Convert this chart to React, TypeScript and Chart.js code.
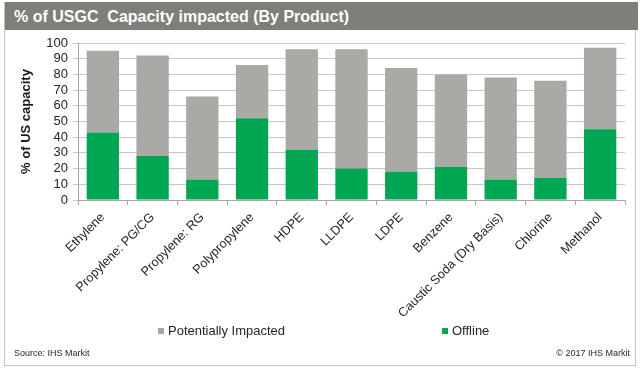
import React, { useEffect, useRef } from "react";
import { Chart, registerables } from "chart.js";

Chart.register(...registerables);

const categories = [
  "Ethylene",
  "Propylene: PG/CG",
  "Propylene: RG",
  "Polypropylene",
  "HDPE",
  "LLDPE",
  "LDPE",
  "Benzene",
  "Caustic Soda (Dry Basis)",
  "Chlorine",
  "Methanol",
];
const offline = [43, 28, 13, 52, 32, 20, 18, 21, 13, 14, 45];
const potentiallyImpacted = [52, 64, 53, 34, 64, 76, 66, 59, 65, 62, 52];
const seriesNames = ["Offline", "Potentially Impacted"];
const yMax = 100;
const yStep = 10;

const FONT = '"Liberation Sans", Arial, Helvetica, sans-serif';
const GREEN = "#00a651";
const GRAY = "#aaa9a5";

const legendPlugin = {
  id: "customLegend",
  afterDraw(chart: any, _args: any, opts: any) {
    const ctx = chart.ctx as CanvasRenderingContext2D;
    const order = [1, 0];
    ctx.save();
    ctx.font = `13px ${FONT}`;
    ctx.textBaseline = "middle";
    ctx.textAlign = "left";
    order.forEach((di, i) => {
      const ds = chart.data.datasets[di];
      const x = opts.xs[i];
      const y = opts.y;
      ctx.fillStyle = ds.backgroundColor;
      ctx.fillRect(x, y - 3, 6, 6);
      ctx.fillStyle = "#262626";
      ctx.fillText(ds.label, x + 10, y);
    });
    ctx.restore();
  },
};

export default function App() {
  const canvasRef = useRef<HTMLCanvasElement | null>(null);

  useEffect(() => {
    if (!canvasRef.current) return;
    const chart = new Chart(canvasRef.current, {
      type: "bar",
      data: {
        labels: categories,
        datasets: [
          {
            label: seriesNames[0],
            data: offline,
            backgroundColor: GREEN,
            stack: "s",
            categoryPercentage: 1,
            barPercentage: 0.65,
          },
          {
            label: seriesNames[1],
            data: potentiallyImpacted,
            backgroundColor: GRAY,
            stack: "s",
            categoryPercentage: 1,
            barPercentage: 0.65,
          },
        ],
      },
      options: {
        animation: false,
        responsive: false,
        maintainAspectRatio: false,
        devicePixelRatio: 1,
        layout: { padding: { top: 13, right: 10, left: 0, bottom: 0 } },
        plugins: {
          legend: { display: false },
          tooltip: { enabled: false },
          customLegend: { xs: [153, 437], y: 301 },
        } as any,
        scales: {
          x: {
            stacked: true,
            afterFit: (s: any) => {
              s.height = 165;
            },
            grid: {
              display: true,
              drawOnChartArea: false,
              drawTicks: true,
              tickLength: 5,
              color: "#a6a6a6",
              offset: true,
            },
            border: { display: true, color: "#a6a6a6" },
            ticks: {
              minRotation: 45,
              maxRotation: 45,
              autoSkip: false,
              color: "#262626",
              padding: 5,
              font: { family: FONT, size: 12.7 },
            },
          },
          y: {
            stacked: true,
            min: 0,
            max: yMax,
            afterFit: (s: any) => {
              s.width = 73;
            },
            ticks: {
              stepSize: yStep,
              autoSkip: false,
              color: "#262626",
              padding: 5,
              font: { family: FONT, size: 13 },
            },
            grid: {
              color: "#c8c8c8",
              tickLength: 5,
              drawTicks: true,
            },
            border: { display: true, color: "#a6a6a6" },
            title: {
              display: true,
              text: "% of US capacity",
              color: "#1a1a1a",
              font: { family: FONT, size: 13, weight: "bold" },
              padding: { top: 14, bottom: 0 },
            },
          },
        },
      },
      plugins: [legendPlugin],
    });
    return () => chart.destroy();
  }, []);

  return (
    <div
      style={{
        position: "fixed",
        left: 0,
        top: 0,
        width: 640,
        height: 370,
        background: "#fff",
        fontFamily: FONT,
      }}
    >
      <div
        style={{
          position: "absolute",
          left: 4,
          top: 2,
          width: 632,
          height: 364,
          border: "1px solid #c4c4c4",
          boxSizing: "border-box",
        }}
      />
      <div
        style={{
          position: "absolute",
          left: 5,
          top: 2,
          width: 633,
          height: 28,
          background: "#7f7e79",
          color: "#fff",
          fontWeight: "bold",
          fontSize: 16,
          lineHeight: "29px",
          whiteSpace: "pre",
          boxSizing: "border-box",
          paddingLeft: 9,
        }}
      >
        {"% of USGC  Capacity impacted (By Product)"}
      </div>
      <canvas
        ref={canvasRef}
        width={630}
        height={335}
        style={{ position: "absolute", left: 5, top: 30, width: 630, height: 335 }}
      />
      <div
        style={{
          position: "absolute",
          left: 14,
          top: 347,
          fontSize: 9,
          lineHeight: "12px",
          color: "#262626",
        }}
      >
        Source: IHS Markit
      </div>
      <div
        style={{
          position: "absolute",
          right: 10,
          top: 347,
          fontSize: 9,
          lineHeight: "12px",
          color: "#262626",
        }}
      >
        © 2017 IHS Markit
      </div>
    </div>
  );
}
